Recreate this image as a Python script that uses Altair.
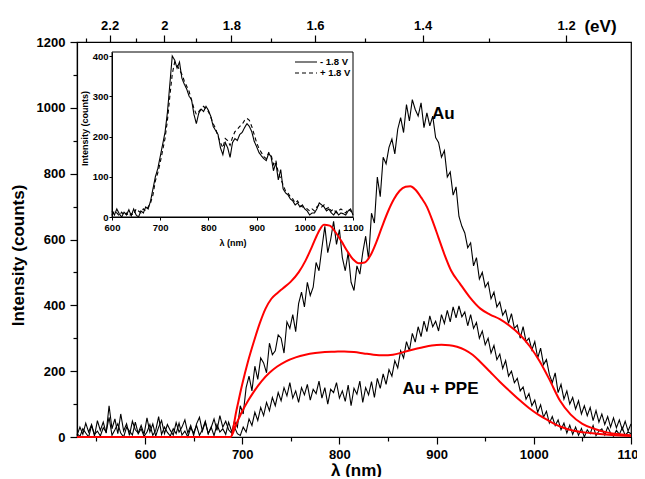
import altair as alt
import pandas as pd

FONT = "Liberation Sans"

# ---------------- main spectra: counts on a 3 nm grid starting at 530 nm ----------------
grid_start = 530
grid_step = 3

au_counts = [
    5, 30, 8, 42, 15, 38, 3, 50, 20, 45,
    12, 95, 25, 55, 10, 70, 18, 40, 5, 48,
    22, 12, 35, 8, 58, 15, 40, 3, 30, 50,
    10, 38, 20, 6, 44, 15, 30, 52, 12, 35,
    5, 40, 60, 18, 45, 10, 28, 55, 20, 65,
    30, 48, 22,
    12, 48, 30, 95, 70, 150, 185, 140, 215, 175,
    240, 225, 195, 285, 250, 262, 310, 300, 255, 350,
    330, 372, 320, 405, 440, 395, 470, 430, 455, 530,
    505, 575, 640, 560, 600, 655, 585, 630, 545, 505,
    560, 470, 445, 520, 495, 560, 610, 540, 680, 650,
    790, 730, 850, 830, 880, 905, 860, 935, 970, 925,
    1010, 960, 1025, 995, 975, 1015, 940, 985, 945, 975,
    910, 895, 850, 870, 790, 805, 735, 760, 670, 640,
    620, 575, 590, 520, 545, 480, 500, 455, 470, 420,
    440, 395, 410, 370, 385, 345, 375, 330, 340, 300,
    335, 290, 300, 265, 290, 240, 270, 220, 235, 190,
    165, 195, 135, 160, 115, 140, 100, 120, 85, 110,
    70, 95, 65, 90, 50, 80, 45, 70, 38, 62,
    30, 58, 28, 52, 22, 48, 18, 40,
]

ppe_counts = [
    10, 2, 25, 12, 0, 35, 8, 18, 3, 28,
    15, 60, 5, 22, 40, 12, 0, 30, 18, 6,
    45, 10, 25, 2, 15, 38, 5, 20, 62, 8,
    30, 14, 3, 25, 10, 42, 6, 18, 0, 28,
    12, 35, 5, 22, 48, 10, 30, 4, 38, 15,
    25, 8, 45, 18, 30, 10, 5, 30, 15, 55,
    35, 75, 50, 90, 65, 105, 80, 120, 95, 135,
    110, 150, 125, 165, 118, 140, 105, 150, 128, 160,
    112, 145, 132, 170, 118, 150, 100, 145, 135, 165,
    118, 140, 108, 158, 95, 148, 130, 170, 105, 150,
    128, 168, 120, 178, 148, 192, 160, 205, 185, 232,
    210, 262, 240, 290, 262, 315, 288, 335, 305, 352,
    320, 368, 335, 352, 322, 372, 345, 385, 350, 395,
    362, 398, 365, 380, 338, 372, 330, 348, 300, 322,
    280, 300, 255, 278, 235, 252, 208, 232, 185, 200,
    165, 178, 140, 152, 115, 132, 95, 112, 75, 98,
    60, 78, 42, 62, 35, 52, 22, 42, 12, 36,
    8, 30, 5, 26, 0, 22, 10, 35, 4, 18,
    25, 6, 30, 12, 2, 20, 8, 28, 5, 15,
    10,
]

# ---------------- fitted curves (red) ----------------
fit_au_lam = [530, 688, 694, 700, 706, 712, 718, 724, 730, 736,
              742, 750, 758, 765, 772, 778, 784, 790, 796, 802,
              808, 814, 820, 826, 832, 838, 844, 850, 856, 862,
              868, 873, 878, 884, 890, 896, 902, 908, 915, 924,
              934, 945, 955, 965, 975, 986, 996, 1006, 1016, 1027,
              1038, 1050, 1062, 1075, 1088, 1100]
fit_au = [0, 0, 80, 160, 230, 290, 345, 390, 420, 437,
          452, 472, 500, 535, 580, 620, 645, 642, 622, 595,
          565, 540, 528, 530, 552, 592, 640, 685, 722, 748,
          760, 762, 752, 728, 699, 655, 605, 555, 505, 466,
          425, 390, 372, 358, 338, 310, 275, 230, 175, 110,
          68, 40, 25, 14, 8, 5]

fit_ppe_lam = [530, 688, 694, 700, 706, 712, 720, 728, 736, 745,
               755, 765, 775, 785, 795, 805, 815, 825, 835, 845,
               855, 865, 875, 885, 895, 905, 913, 921, 929, 937,
               945, 955, 965, 975, 985, 995, 1005, 1015, 1027, 1040,
               1058, 1080, 1100]
fit_ppe = [0, 0, 40, 78, 110, 138, 170, 195, 214, 230,
           242, 250, 255, 258, 259, 260, 258, 254, 250, 248,
           250, 257, 265, 272, 278, 280, 279, 274, 265, 250,
           228, 198, 168, 140, 113, 88, 67, 50, 32, 20,
           12, 6, 3]

# ---------------- inset spectra: 5 nm grid from 600 nm ----------------
inset_start = 600
inset_step = 5
inset_minus = [
    15, 5, 20, 8, 0, 12, 5, 18, 3, 20,
    5, 0, 15, 10, 25, 20, 40, 70, 100, 120,
    150, 180, 210, 260, 330, 400, 390, 370, 385, 345,
    330, 318, 300, 292, 255, 232, 258, 268, 262, 275,
    265, 250, 225, 215, 205, 172, 155, 185, 172, 148,
    185, 195, 190, 205, 210, 222, 232, 225, 212, 188,
    175, 160, 152, 145, 140, 158, 150, 115, 135, 92,
    118, 70, 60, 55, 45, 40, 30, 35, 25, 30,
    20, 15, 5, 10, 10, 20, 35, 30, 25, 15,
    20, 10, 5, 15, 5, 10, 8, 5, 15, 20,
    5,
]
inset_plus = [
    5, 15, 10, 3, 12, 5, 10, 2, 8, 5,
    20, 15, 10, 20, 15, 25, 35, 55, 90, 110,
    135, 165, 195, 240, 300, 355, 385, 378, 365, 355,
    338, 325, 312, 290, 270, 255, 262, 270, 275, 268,
    262, 248, 232, 220, 200, 185, 172, 195, 190, 178,
    198, 212, 218, 225, 230, 240, 245, 240, 225, 205,
    185, 170, 160, 150, 145, 160, 155, 130, 140, 110,
    95, 80, 65, 60, 50, 45, 35, 40, 30, 25,
    25, 20, 15, 20, 15, 25, 30, 25, 30, 20,
    25, 15, 20, 10, 15, 20, 15, 10, 20, 15,
    10,
]
inset_series = ["- 1.8 V", "+ 1.8 V"]

# ---------------- axes / ticks ----------------
x_domain = [530, 1100]
y_domain = [0, 1200]
x_ticks = [600, 700, 800, 900, 1000, 1100]
x_minor = [550, 650, 750, 850, 950, 1050]
y_ticks = [0, 200, 400, 600, 800, 1000, 1200]
y_minor = [100, 300, 500, 700, 900, 1100]
ev_major = [2.2, 2.0, 1.8, 1.6, 1.4, 1.2]
ev_minor = [2.3, 2.1, 1.9, 1.7, 1.5, 1.3]
HC = 1239.84  # eV*nm

inset_x_domain = [600, 1100]
inset_y_domain = [0, 410]
inset_x_ticks = [600, 700, 800, 900, 1000, 1100]
inset_y_ticks = [0, 100, 200, 300, 400]

labels = ["Au", "Au + PPE"]
label_lam = [907, 904]
label_cnt = [981, 146]

# ---------------- tables ----------------
df_au = pd.DataFrame({"lam": [grid_start + grid_step * i for i in range(len(au_counts))], "cnt": au_counts})
df_ppe = pd.DataFrame({"lam": [grid_start + grid_step * i for i in range(len(ppe_counts))], "cnt": ppe_counts})
df_fit_au = pd.DataFrame({"lam": fit_au_lam, "cnt": fit_au})
df_fit_ppe = pd.DataFrame({"lam": fit_ppe_lam, "cnt": fit_ppe})
df_inset = pd.concat([
    pd.DataFrame({"lam": [inset_start + inset_step * i for i in range(len(inset_minus))],
                  "cnt": inset_minus, "series": inset_series[0]}),
    pd.DataFrame({"lam": [inset_start + inset_step * i for i in range(len(inset_plus))],
                  "cnt": inset_plus, "series": inset_series[1]}),
])
df_frame = pd.DataFrame({"x0": [inset_x_domain[0]], "x1": [inset_x_domain[1]],
                         "y0": [inset_y_domain[0]], "y1": [inset_y_domain[1]]})
df_labels = pd.DataFrame({"lam": label_lam, "cnt": label_cnt, "label": labels})

ev_lam_major = [HC / e for e in ev_major]
ev_lam_minor = [HC / e for e in ev_minor]

# ---------------- scales ----------------
W, H = 554, 395
xs = alt.Scale(domain=x_domain, nice=False, zero=False)
ys = alt.Scale(domain=y_domain, nice=False, zero=False)
ixs = alt.Scale(domain=inset_x_domain, range=[35, 276], nice=False, zero=False)
iys = alt.Scale(domain=inset_y_domain, range=[175, 10], nice=False, zero=False)

base_axis = dict(grid=False, domainColor="black", tickColor="black", labelColor="black",
                 labelFont=FONT, labelFontWeight="bold", titleFont=FONT,
                 titleFontWeight="bold", titleColor="black", labelFlush=False)

ax_x_major = alt.Axis(orient="bottom", values=x_ticks, format="d", tickSize=7, tickWidth=1.2,
                      domainWidth=1.2, labelFontSize=13, labelPadding=4, title="λ (nm)",
                      titleFontSize=17, titleX=279, titleY=33, titleAlign="center",
                      titleBaseline="middle", **base_axis)
ax_x_minor = alt.Axis(orient="bottom", values=x_minor, tickSize=4, tickWidth=1.2, labels=False,
                      domain=False, title=None, grid=False, tickColor="black")
ax_y_major = alt.Axis(orient="left", values=y_ticks, format="d", tickSize=7, tickWidth=1.2,
                      domainWidth=1.2, labelFontSize=13, labelPadding=5, title="Intensity (counts)",
                      titleFontSize=17, titleAngle=270, titleX=-59, titleY=213, titleAlign="center",
                      titleBaseline="middle", **base_axis)
ax_y_minor = alt.Axis(orient="left", values=y_minor, tickSize=4, tickWidth=1.2, labels=False,
                      domain=False, title=None, grid=False, tickColor="black")
ax_top_major = alt.Axis(orient="top", values=ev_lam_major,
                        labelExpr="format(1239.84 / datum.value, '.1~f')",
                        tickSize=7, tickWidth=1.2, domainWidth=1.2, labelFontSize=13, labelPadding=3,
                        title="(eV)", titleFontSize=17, titleX=523, titleY=-16, titleAlign="center",
                        titleBaseline="middle", **base_axis)
ax_top_minor = alt.Axis(orient="top", values=ev_lam_minor, tickSize=4, tickWidth=1.2, labels=False,
                        domain=False, title=None, grid=False, tickColor="black")
ax_ix = alt.Axis(orient="bottom", offset=-220, values=inset_x_ticks, format="d", tickSize=3,
                 tickWidth=1, domainWidth=1, labelFontSize=9.5, labelPadding=2, title="λ (nm)",
                 titleFontSize=9, titleY=25, titleBaseline="middle", zindex=1, **base_axis)
ax_iy = alt.Axis(orient="left", offset=-35, values=inset_y_ticks, format="d", tickSize=3,
                 tickWidth=1, domainWidth=1, labelFontSize=9.5, labelPadding=1,
                 title="Intensity (counts)", titleFontSize=9, titleAngle=270, titleX=-28, titleY=86,
                 titleAlign="center", titleBaseline="middle", zindex=1, **base_axis)

# ---------------- layers ----------------
frame = alt.Chart(df_frame).mark_rect(fill="white", stroke="black", strokeWidth=1).encode(
    x=alt.X("x0:Q", scale=ixs, axis=None), x2="x1:Q",
    y=alt.Y("y0:Q", scale=iys, axis=None), y2="y1:Q")

ppe_line = alt.Chart(df_ppe).mark_line(color="black", strokeWidth=1.1).encode(
    x=alt.X("lam:Q", scale=xs, axis=ax_x_minor),
    y=alt.Y("cnt:Q", scale=ys, axis=ax_y_minor))

au_line = alt.Chart(df_au).mark_line(color="black", strokeWidth=1.1).encode(
    x=alt.X("lam:Q", scale=xs, axis=ax_x_major),
    y=alt.Y("cnt:Q", scale=ys, axis=ax_y_major))

red_ppe = alt.Chart(df_fit_ppe).mark_line(color="#ff0000", strokeWidth=2, interpolate="monotone").encode(
    x=alt.X("lam:Q", scale=xs, axis=ax_top_minor),
    y=alt.Y("cnt:Q", scale=ys, axis=None))

red_au = alt.Chart(df_fit_au).mark_line(color="#ff0000", strokeWidth=2, interpolate="monotone").encode(
    x=alt.X("lam:Q", scale=xs, axis=ax_top_major),
    y=alt.Y("cnt:Q", scale=ys, axis=None))

texts = alt.Chart(df_labels).mark_text(font=FONT, fontWeight="bold", fontSize=17, color="black",
                                       baseline="middle", align="center").encode(
    x=alt.X("lam:Q", scale=xs, axis=None),
    y=alt.Y("cnt:Q", scale=ys, axis=None),
    text="label:N")

inset_lines = alt.Chart(df_inset).mark_line(color="black", strokeWidth=1.1).encode(
    x=alt.X("lam:Q", scale=ixs, axis=ax_ix),
    y=alt.Y("cnt:Q", scale=iys, axis=ax_iy),
    strokeDash=alt.StrokeDash(
        "series:N",
        scale=alt.Scale(domain=inset_series, range=[[1, 0], [4, 3]]),
        legend=alt.Legend(title=None, orient="none", legendX=217, legendY=15,
                          symbolType="stroke", symbolSize=484, symbolStrokeWidth=1.2,
                          symbolStrokeColor="black", labelFont=FONT, labelFontWeight="bold",
                          labelFontSize=9.5, labelColor="black", labelOffset=2,
                          clipHeight=10, rowPadding=1, padding=0)))

chart = alt.layer(frame, ppe_line, au_line, red_ppe, red_au, texts, inset_lines).resolve_scale(
    x="independent", y="independent"
).resolve_axis(
    x="independent", y="independent"
).properties(
    width=W, height=H,
    padding={"left": 69, "top": 34, "right": 6, "bottom": 40},
    autosize=alt.AutoSizeParams(type="none"),
    background="white",
).configure_view(stroke="black", strokeWidth=1.2)

chart.save("out.html", embed_options={"renderer": "svg", "actions": False})
